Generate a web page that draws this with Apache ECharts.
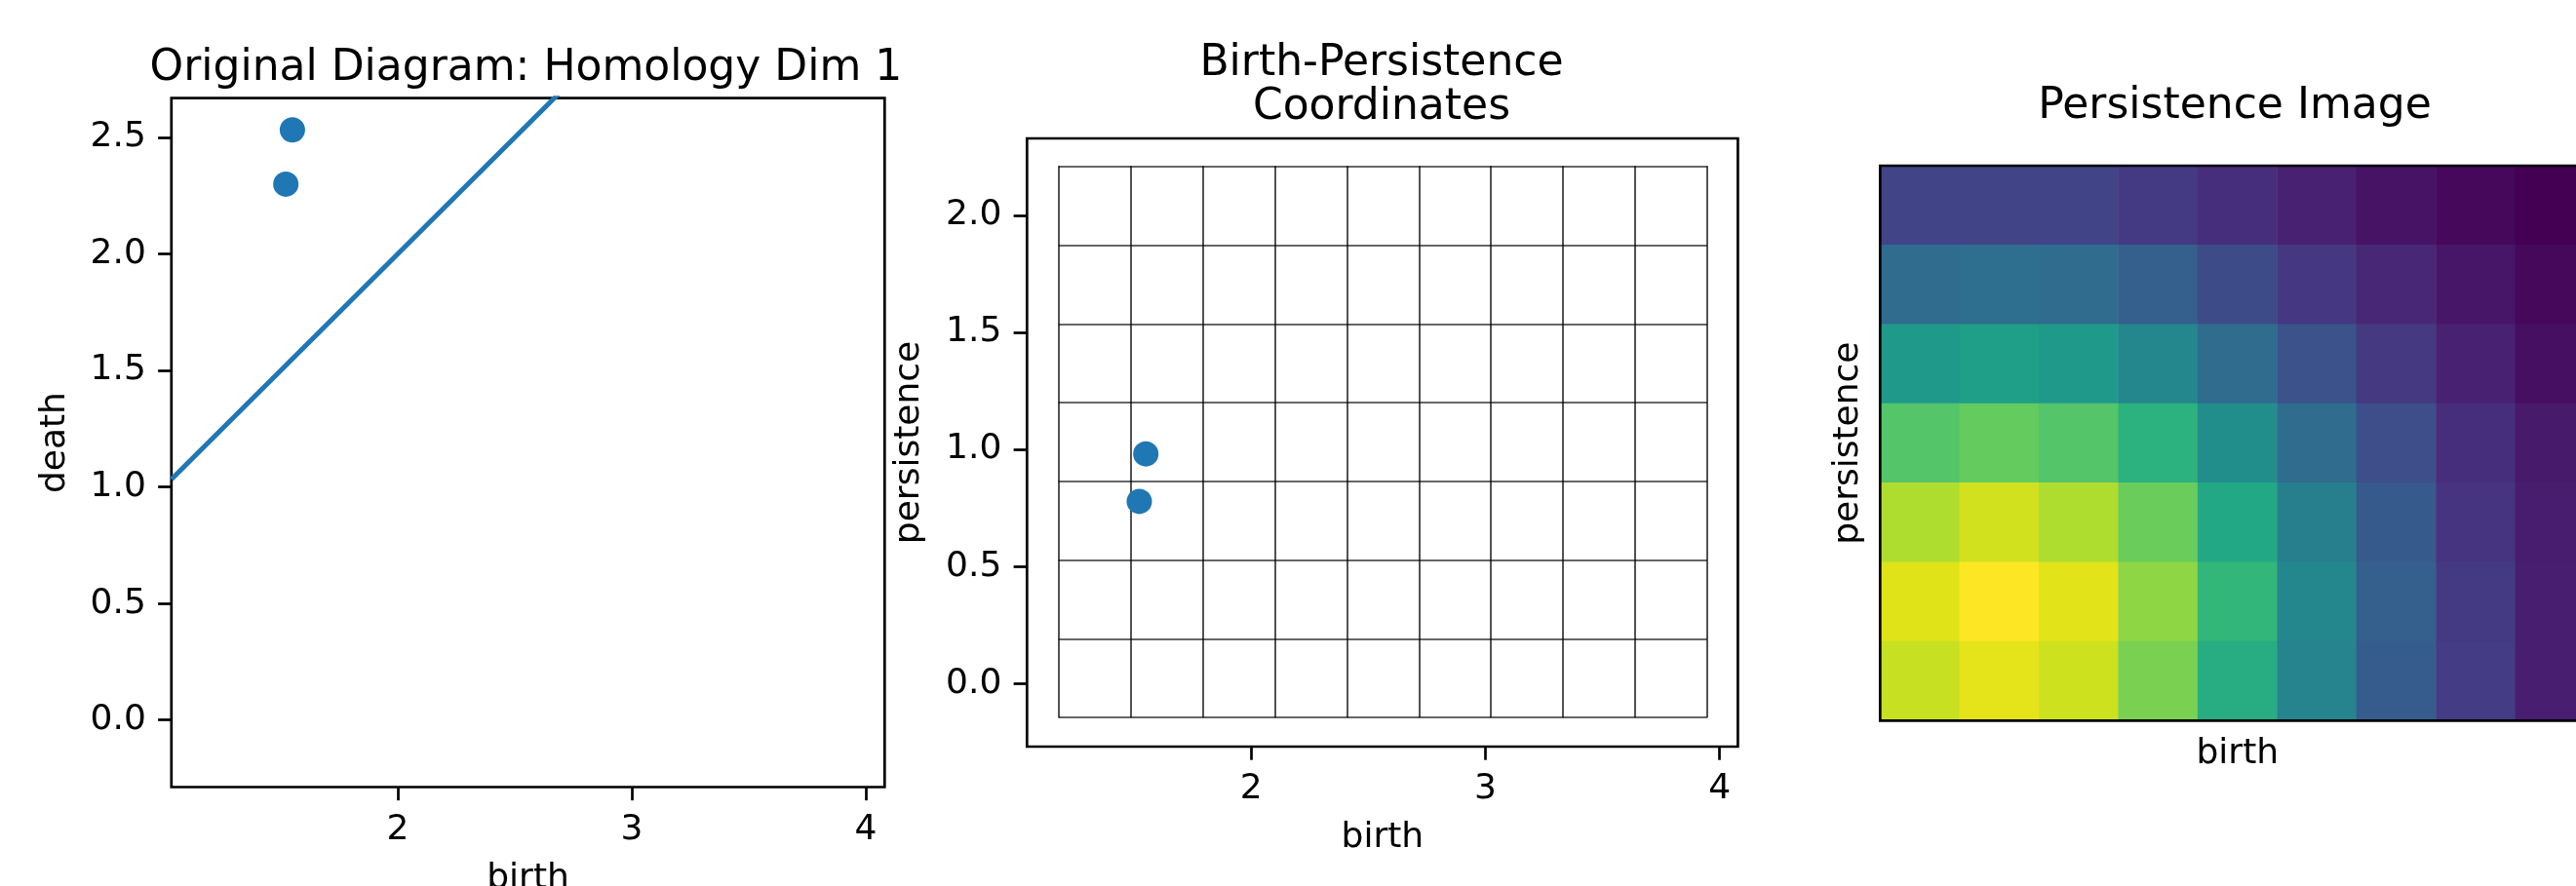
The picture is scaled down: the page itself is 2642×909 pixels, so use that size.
<!DOCTYPE html>
<html><head><meta charset="utf-8">
<script src="https://cdn.jsdelivr.net/npm/echarts@6/dist/echarts.min.js"></script>
<style>html,body{margin:0;padding:0;background:#fff}#c{width:2642px;height:909px}</style>
</head><body><div id="c"></div>
<script>
// ---- data ----
const births = [1.522, 1.550];
const deaths = [2.300, 2.533];
const persistence = [0.778, 0.981];
const diagonalEnds = [1.033, 4.081];
const birthTicks = [2, 3, 4];
const deathTicks = [0, 0.5, 1, 1.5, 2, 2.5];
const persTicks = [0, 0.5, 1, 1.5, 2];
const birthEdges = [1.177, 1.485, 1.792, 2.100, 2.408, 2.716, 3.023, 3.331, 3.639, 3.947];
const persEdges = [-0.145, 0.190, 0.526, 0.866, 1.200, 1.536, 1.872, 2.210];
// persistence image, rows listed top to bottom, columns left to right
const imageRows = [
  [0.20, 0.20, 0.20, 0.17, 0.13, 0.09, 0.05, 0.02, 0.00],
  [0.35, 0.36, 0.35, 0.30, 0.23, 0.16, 0.11, 0.06, 0.02],
  [0.54, 0.56, 0.54, 0.46, 0.35, 0.25, 0.165, 0.09, 0.04],
  [0.73, 0.76, 0.73, 0.64, 0.49, 0.35, 0.235, 0.13, 0.07],
  [0.88, 0.93, 0.88, 0.77, 0.60, 0.43, 0.28, 0.15, 0.08],
  [0.95, 1.00, 0.955, 0.83, 0.66, 0.46, 0.30, 0.17, 0.085],
  [0.915, 0.96, 0.925, 0.80, 0.62, 0.45, 0.29, 0.175, 0.085]
];
const titles = ['Original Diagram: Homology Dim 1', 'Birth-Persistence\nCoordinates', 'Persistence Image'];

// ---- styles / layout ----
const FONT = 'DejaVu Sans';
const BLUE = '#1f77b4';
const VIRIDIS = ['#440154','#471365','#482475','#463480','#414487','#3b528b','#355f8d','#2f6c8e','#2a788e','#25848e','#21918c','#1e9c89','#22a884','#2fb47c','#44bf70','#5ec962','#7ad151','#9bd93c','#bddf26','#dfe318','#fde725'];
const SPINE = 2.7;
const tickFont = 36;

function valueAxis(grid, min, max, ticks, fmt, name, gap) {
  return {
    gridIndex: grid, type: 'value', min: min, max: max,
    splitLine: {show: false},
    axisLine: {show: false, onZero: false},
    axisTick: {show: true, inside: false, length: 13.7, customValues: ticks,
      lineStyle: {color: '#000', width: SPINE}},
    axisLabel: {show: true, customValues: ticks, margin: 26, fontSize: tickFont,
      color: '#000', fontFamily: FONT, formatter: fmt},
    name: name, nameLocation: 'middle', nameGap: gap,
    nameTextStyle: {fontSize: tickFont, color: '#000', fontFamily: FONT}
  };
}
const f1 = v => Number(v).toFixed(1);
const f0 = v => String(Math.round(v));

const scatter0 = births.map((b, i) => [b, deaths[i]]);
const scatter1 = births.map((b, i) => [b, persistence[i]]);
const gridLines = [];
birthEdges.forEach(b => gridLines.push({coords: [[b, persEdges[0]], [b, persEdges[persEdges.length - 1]]]}));
persEdges.forEach(p => gridLines.push({coords: [[birthEdges[0], p], [birthEdges[birthEdges.length - 1], p]]}));
const heat = [];
imageRows.forEach((row, r) => row.forEach((v, c) => heat.push([c, r, v])));
const colCats = imageRows[0].map((_, i) => String(i));
const rowCats = imageRows.map((_, i) => String(i));

const titleStyle = {fontSize: 44, fontWeight: 'normal', color: '#000', fontFamily: FONT, lineHeight: 45};
const gridBase = {show: true, borderColor: '#000', borderWidth: SPINE, backgroundColor: 'transparent',
  containLabel: false, outerBoundsMode: 'none'};

const option = {
  animation: false,
  backgroundColor: '#fff',
  textStyle: {fontFamily: FONT},
  title: [
    {text: titles[0], left: 539.4, top: 48.5, textAlign: 'center', padding: 0, textStyle: titleStyle},
    {text: titles[1], left: 1417, top: 43, textAlign: 'center', padding: 0, textStyle: titleStyle},
    {text: titles[2], left: 2292, top: 87, textAlign: 'center', padding: 0, textStyle: titleStyle}
  ],
  grid: [
    Object.assign({left: 175.8, top: 100.7, width: 731.5, height: 706.8}, gridBase),
    Object.assign({left: 1053.3, top: 142, width: 729.1, height: 624}, gridBase),
    Object.assign({left: 1928.3, top: 170, width: 733, height: 569.3, z: 10}, gridBase)
  ],
  xAxis: [
    valueAxis(0, 1.033, 4.081, birthTicks, f0, 'birth', 76),
    valueAxis(1, 1.0425, 4.078, birthTicks, f0, 'birth', 76),
    {gridIndex: 2, type: 'category', data: colCats, axisLine: {show: false, onZero: false}, axisTick: {show: false},
      axisLabel: {show: false}, splitLine: {show: false},
      name: 'birth', nameLocation: 'middle', nameGap: 16,
      nameTextStyle: {fontSize: tickFont, color: '#000', fontFamily: FONT}}
  ],
  yAxis: [
    valueAxis(0, -0.288, 2.669, deathTicks, f1, 'death', 101),
    valueAxis(1, -0.269, 2.328, persTicks, f1, 'persistence', 103),
    {gridIndex: 2, type: 'category', data: rowCats, inverse: true, axisLine: {show: false, onZero: false}, axisTick: {show: false},
      axisLabel: {show: false}, splitLine: {show: false},
      name: 'persistence', nameLocation: 'middle', nameGap: 15,
      nameTextStyle: {fontSize: tickFont, color: '#000', fontFamily: FONT}}
  ],
  visualMap: {show: false, type: 'continuous', min: 0, max: 1, seriesIndex: 4, inRange: {color: VIRIDIS}},
  series: [
    {type: 'line', xAxisIndex: 0, yAxisIndex: 0, data: diagonalEnds.map(v => [v, v]), showSymbol: false,
      clip: true, lineStyle: {color: BLUE, width: 5}, z: 2},
    {type: 'scatter', xAxisIndex: 0, yAxisIndex: 0, data: scatter0, symbolSize: 26,
      itemStyle: {color: BLUE, opacity: 1}, z: 3},
    {type: 'lines', coordinateSystem: 'cartesian2d', xAxisIndex: 1, yAxisIndex: 1, data: gridLines,
      lineStyle: {color: '#000', width: 1.7, opacity: 0.8}, silent: true, z: 2},
    {type: 'scatter', xAxisIndex: 1, yAxisIndex: 1, data: scatter1, symbolSize: 26,
      itemStyle: {color: BLUE, opacity: 1}, z: 3},
    {type: 'heatmap', xAxisIndex: 2, yAxisIndex: 2, data: heat, itemStyle: {borderWidth: 0}, progressive: 0}
  ]
};
const chart = echarts.init(document.getElementById('c'), null, {renderer: 'canvas'});
chart.setOption(option);
</script>
</body></html>
